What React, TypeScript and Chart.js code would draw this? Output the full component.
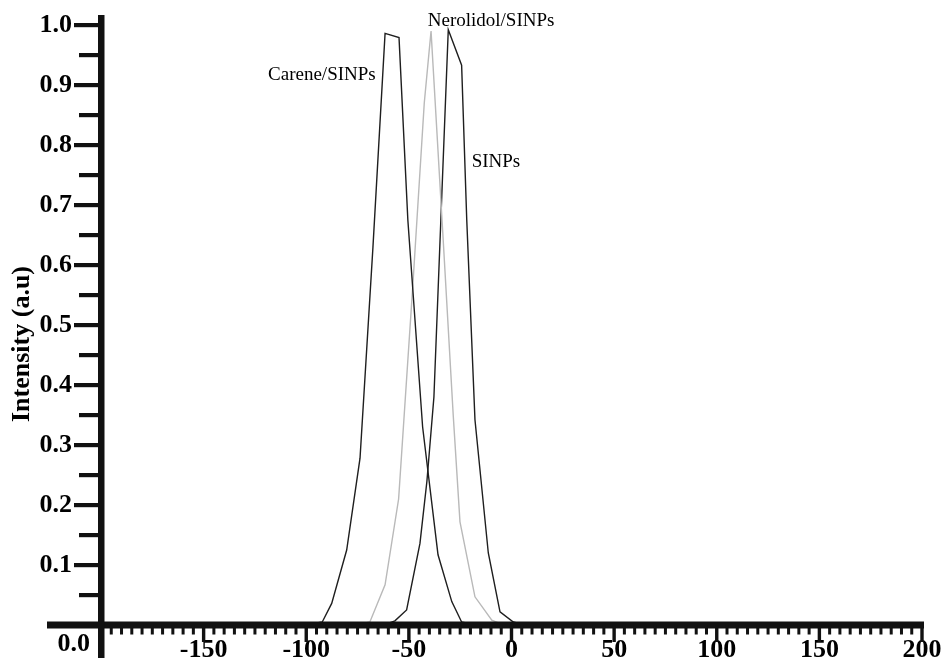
import React, { useEffect, useRef } from 'react';
import { Chart, registerables } from 'chart.js';

Chart.register(...registerables);

// ---- data ----
const seriesNames = ['Carene/SINPs', 'Nerolidol/SINPs', 'SINPs'];

const careneX = [-100, -92.2, -87.6, -80.3, -73.8, -67.5, -61.6, -54.8, -50.5, -43.3, -35.8, -29.1, -24.3, -18];
const careneY = [0, 0.005, 0.036, 0.125, 0.278, 0.63, 0.986, 0.979, 0.675, 0.33, 0.117, 0.039, 0.005, 0];

const nerolidolX = [-76, -69, -61.6, -55, -48, -42.5, -39.2, -33.5, -28.4, -25.1, -17.8, -9.6, -4];
const nerolidolY = [0, 0.005, 0.067, 0.21, 0.57, 0.87, 0.99, 0.655, 0.35, 0.172, 0.047, 0.008, 0];

const sinpsX = [-62, -56.8, -51.1, -44.6, -41.2, -37.8, -30.8, -24.3, -21.8, -17.8, -11.3, -5.6, 0.9, 6];
const sinpsY = [0, 0.007, 0.025, 0.136, 0.24, 0.38, 0.992, 0.933, 0.675, 0.342, 0.12, 0.022, 0.005, 0];

const xTickValues = [-150, -100, -50, 0, 50, 100, 150, 200];
const xTickLabels = ['-150', '-100', '-50', '0', '50', '100', '150', '200'];
const yTickValues = [0.1, 0.2, 0.3, 0.4, 0.5, 0.6, 0.7, 0.8, 0.9, 1.0];
const yTickLabels = ['0.1', '0.2', '0.3', '0.4', '0.5', '0.6', '0.7', '0.8', '0.9', '1.0'];
const yZeroLabel = '0.0';
const yTitle = 'Intensity (a.u)';

// label anchors in data units: [x, y] (left / baseline)
const labelAnchors: [number, number][] = [
  [-118.6, 0.908],
  [-40.8, 0.998],
  [-19.4, 0.764],
];

const FONT = "'Liberation Serif', 'Times New Roman', serif";

const toPts = (xs: number[], ys: number[]) => xs.map((x, i) => ({ x, y: ys[i] }));

const axesPlugin = {
  id: 'customAxes',
  afterDatasetsDraw(chart: any) {
    const { ctx, chartArea, scales } = chart;
    const xs = scales.x;
    const ys = scales.y;
    const x0 = xs.getPixelForValue(-200);
    const xEnd = xs.getPixelForValue(200);
    const y0 = ys.getPixelForValue(0);
    ctx.save();
    ctx.fillStyle = '#111';
    // x axis line
    ctx.fillRect(47, y0 - 3.5, xEnd + 2 - 47, 7);
    // y axis line
    ctx.fillRect(x0 - 3, chartArea.top - 10, 6.5, chart.height - chartArea.top + 10);
    // y ticks (major 0.1, minor 0.05)
    for (let i = 1; i <= 20; i++) {
      const v = i * 0.05;
      const py = ys.getPixelForValue(v);
      const major = i % 2 === 0;
      const len = major ? 24 : 19;
      ctx.fillRect(x0 - 3 - len, py - 2, len, 4.2);
    }
    // x ticks (major 50, minor 5)
    for (let i = 1; i <= 80; i++) {
      const v = -200 + i * 5;
      const px = xs.getPixelForValue(v);
      const major = i % 10 === 0;
      if (major) ctx.fillRect(px - 1.7, y0, 3.4, 17);
      else ctx.fillRect(px - 1.5, y0, 3, 9.5);
    }
    // y zero label
    ctx.fillStyle = '#000';
    ctx.font = `bold 26px ${FONT}`;
    ctx.textAlign = 'right';
    ctx.textBaseline = 'middle';
    ctx.fillText(yZeroLabel, 90, y0 + 19);
    // y title
    ctx.save();
    ctx.translate(22, 344);
    ctx.rotate(-Math.PI / 2);
    ctx.textAlign = 'center';
    ctx.textBaseline = 'middle';
    ctx.font = `bold 26px ${FONT}`;
    ctx.fillText(yTitle, 0, 0);
    ctx.restore();
    // series labels
    ctx.font = `19px ${FONT}`;
    ctx.textAlign = 'left';
    ctx.textBaseline = 'alphabetic';
    seriesNames.forEach((name, i) => {
      const [lx, ly] = labelAnchors[i];
      ctx.fillText(name, xs.getPixelForValue(lx), ys.getPixelForValue(ly));
    });
    ctx.restore();
  },
};

export default function App() {
  const ref = useRef<HTMLCanvasElement | null>(null);
  useEffect(() => {
    if (!ref.current) return;
    const chart = new Chart(ref.current, {
      type: 'line',
      data: {
        datasets: [
          {
            label: seriesNames[0],
            data: toPts(careneX, careneY),
            borderColor: '#1e1e1e',
            borderWidth: 1.4,
            pointRadius: 0,
            tension: 0,
          },
          {
            label: seriesNames[1],
            data: toPts(nerolidolX, nerolidolY),
            borderColor: '#b9b9b9',
            borderWidth: 1.4,
            pointRadius: 0,
            tension: 0,
          },
          {
            label: seriesNames[2],
            data: toPts(sinpsX, sinpsY),
            borderColor: '#1e1e1e',
            borderWidth: 1.4,
            pointRadius: 0,
            tension: 0,
          },
        ],
      },
      options: {
        animation: false,
        responsive: false,
        devicePixelRatio: 1,
        layout: { padding: { left: 0, right: 20, top: 25, bottom: 0 } },
        plugins: { legend: { display: false }, tooltip: { enabled: false } },
        scales: {
          x: {
            type: 'linear',
            min: -200,
            max: 200,
            grid: { display: false },
            border: { display: false },
            afterBuildTicks: (scale: any) => {
              scale.ticks = xTickValues.map((v) => ({ value: v }));
            },
            afterFit: (scale: any) => {
              scale.height = 33;
              scale.paddingLeft = 0;
              scale.paddingRight = 0;
            },
            ticks: {
              autoSkip: false,
              maxRotation: 0,
              padding: 2,
              color: '#000',
              font: { family: FONT, size: 26, weight: 'bold' },
              callback: (v: any) => {
                const i = xTickValues.indexOf(Number(v));
                return i >= 0 ? xTickLabels[i] : '';
              },
            },
          },
          y: {
            type: 'linear',
            min: 0,
            max: 1,
            grid: { display: false },
            border: { display: false },
            afterBuildTicks: (scale: any) => {
              scale.ticks = yTickValues.map((v) => ({ value: v }));
            },
            afterFit: (scale: any) => {
              scale.width = 101;
              scale.paddingTop = 0;
              scale.paddingBottom = 0;
            },
            ticks: {
              autoSkip: false,
              padding: 21,
              color: '#000',
              font: { family: FONT, size: 26, weight: 'bold' },
              callback: (v: any) => {
                const i = yTickValues.findIndex((t) => Math.abs(t - Number(v)) < 1e-6);
                return i >= 0 ? yTickLabels[i] : '';
              },
            },
          },
        },
      },
      plugins: [axesPlugin],
    });
    return () => chart.destroy();
  }, []);
  return (
    <div style={{ position: 'fixed', left: 0, top: 0, width: 942, height: 658, background: '#fff' }}>
      <canvas ref={ref} width={942} height={658} />
    </div>
  );
}
